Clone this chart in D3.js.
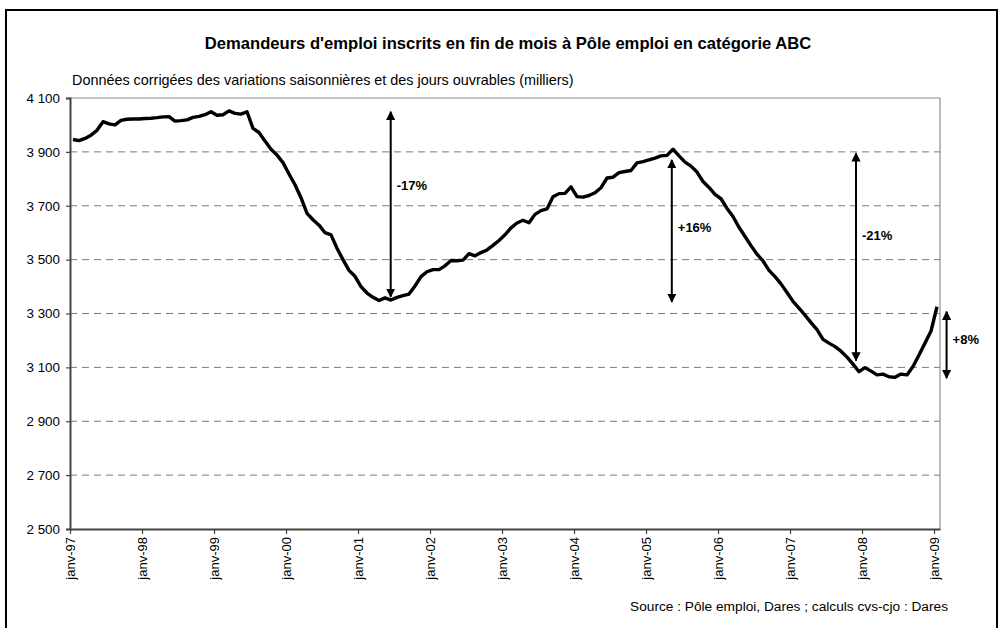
<!DOCTYPE html>
<html><head><meta charset="utf-8">
<script src="https://cdn.jsdelivr.net/npm/d3@7"></script>
<style>
body{margin:0;background:#fff}
svg{display:block}
text{font-family:"Liberation Sans",Arial,Helvetica,sans-serif;fill:#000}
</style>
</head><body>
<svg id="c" width="1003" height="628"></svg>
<script>
const titleText = "Demandeurs d'emploi inscrits en fin de mois à Pôle emploi en catégorie ABC";
const subtitleText = "Données corrigées des variations saisonnières et des jours ouvrables (milliers)";
const sourceText = "Source : Pôle emploi, Dares ; calculs cvs-cjo : Dares";

// Monthly values, janv-97 .. janv-09 (thousands)
const values = [
  3946,3942,3950,3962,3980,4012,4004,4000,4017,4021,4022,4022,
  4024,4025,4027,4030,4031,4014,4016,4019,4028,4032,4038,4049,
  4036,4038,4052,4043,4040,4049,3987,3972,3940,3910,3888,3860,
  3818,3778,3730,3672,3648,3628,3600,3592,3542,3500,3460,3438,
  3400,3376,3360,3348,3358,3350,3360,3366,3372,3402,3437,3455,
  3463,3463,3477,3497,3496,3498,3522,3514,3526,3536,3553,3571,
  3592,3618,3636,3646,3637,3668,3682,3688,3733,3745,3746,3770,
  3734,3732,3738,3748,3767,3803,3806,3823,3827,3831,3859,3864,
  3870,3877,3885,3887,3910,3885,3862,3847,3825,3790,3768,3742,
  3726,3690,3660,3620,3586,3552,3520,3495,3460,3437,3410,3378,
  3345,3320,3294,3266,3240,3204,3190,3177,3160,3138,3112,3084,
  3099,3086,3072,3075,3065,3063,3075,3072,3103,3146,3190,3235,
  3325
];
const xTickLabels = ["janv-97","janv-98","janv-99","janv-00","janv-01","janv-02","janv-03",
                     "janv-04","janv-05","janv-06","janv-07","janv-08","janv-09"];
const yTicks = [2500,2700,2900,3100,3300,3500,3700,3900,4100];

// Annotation arrows
const arrowLabels = ["-17%","+16%","-21%","+8%"];
const arrowMonths = [52.95, 99.8, 130.5, 145.6];
const arrowFrom = [4049, 3870, 3895, 3307];
const arrowTo = [3362, 3343, 3125, 3060];
const arrowLabelValues = [3777, 3621, 3591, 3202];

const svg = d3.select("#c");
const W = 1003, H = 628;
const mLeft = 70, mRight = 940, mTop = 98, mBottom = 529;

svg.append("rect").attr("x",0).attr("y",0).attr("width",W).attr("height",H).attr("fill","#fff");
svg.append("rect").attr("x",6).attr("y",10).attr("width",991).attr("height",640)
  .attr("fill","none").attr("stroke","#000").attr("stroke-width",2);

const x = d3.scaleLinear().domain([0, values.length]).range([mLeft, mRight]);
const y = d3.scaleLinear().domain([2500, 4100]).range([mBottom, mTop]);

const fr = d3.formatLocale({decimal:",", thousands:" ", grouping:[3], currency:["","€"]});
const fmt = fr.format(",");

// gridlines
svg.append("g").selectAll("line").data(yTicks.filter(v => v > 2500 && v < 4100)).join("line")
  .attr("x1", mLeft).attr("x2", mRight)
  .attr("y1", d => y(d)).attr("y2", d => y(d))
  .attr("stroke", "#7a7a7a").attr("stroke-width", 1).attr("stroke-dasharray", "7,5");
// top & right border of plot area
svg.append("line").attr("x1",mLeft).attr("x2",mRight).attr("y1",y(4100)).attr("y2",y(4100))
  .attr("stroke","#8c8c8c").attr("stroke-width",1.2);
svg.append("line").attr("x1",mRight).attr("x2",mRight).attr("y1",mTop).attr("y2",mBottom)
  .attr("stroke","#8c8c8c").attr("stroke-width",1.2);

// y axis
const yAxis = svg.append("g").attr("transform", `translate(${mLeft},0)`)
  .call(d3.axisLeft(y).tickValues(yTicks).tickFormat(fmt).tickSize(4).tickPadding(6));
yAxis.select(".domain").attr("stroke","#444").attr("stroke-width",2);
yAxis.selectAll(".tick line").attr("stroke","#444").attr("stroke-width",1.2);
yAxis.selectAll(".tick text").attr("font-size",13.4).attr("font-family",null);

// x axis
const xTickVals = xTickLabels.map((d,i) => i*12);
const xAxis = svg.append("g").attr("transform", `translate(0,${mBottom})`)
  .call(d3.axisBottom(x).tickValues(xTickVals).tickFormat((d,i) => xTickLabels[i]).tickSize(5).tickSizeOuter(0));
xAxis.select(".domain").attr("stroke","#444").attr("stroke-width",2);
xAxis.selectAll(".tick line").attr("stroke","#444").attr("stroke-width",1.2);
xAxis.selectAll(".tick text")
  .attr("font-size",13).attr("font-family",null)
  .attr("transform","rotate(-90)")
  .attr("text-anchor","end").attr("x",-8).attr("y",0).attr("dy","0.35em");

// data line
const line = d3.line().x((d,i) => x(i + 0.5)).y(d => y(d));
svg.append("path").datum(values).attr("d", line)
  .attr("fill","none").attr("stroke","#000").attr("stroke-width",3.4)
  .attr("stroke-linejoin","round");

// arrows
const defs = svg.append("defs");
defs.append("marker").attr("id","ah").attr("viewBox","0 0 10 10")
  .attr("refX",9).attr("refY",5).attr("markerWidth",4.6).attr("markerHeight",4.6)
  .attr("markerUnits","strokeWidth").attr("orient","auto-start-reverse")
  .append("path").attr("d","M0,0L10,5L0,10Z").attr("fill","#000");

const ag = svg.append("g");
arrowLabels.forEach((lab, i) => {
  const ax = x(arrowMonths[i] + 0.5);
  ag.append("line").attr("x1",ax).attr("x2",ax)
    .attr("y1",y(arrowFrom[i])).attr("y2",y(arrowTo[i]))
    .attr("stroke","#000").attr("stroke-width",2)
    .attr("marker-start","url(#ah)").attr("marker-end","url(#ah)");
  ag.append("text").attr("x", ax + 6).attr("y", y(arrowLabelValues[i]))
    .attr("dy","0.35em").attr("font-size",13).attr("font-weight","bold").text(lab);
});

// texts
svg.append("text").attr("x",508).attr("y",49).attr("text-anchor","middle")
  .attr("font-size",16.6).attr("font-weight","bold").text(titleText);
svg.append("text").attr("x",72).attr("y",85).attr("font-size",14.4).text(subtitleText);
svg.append("text").attr("x",948).attr("y",611).attr("text-anchor","end")
  .attr("font-size",13.7).text(sourceText);
</script>
</body></html>
